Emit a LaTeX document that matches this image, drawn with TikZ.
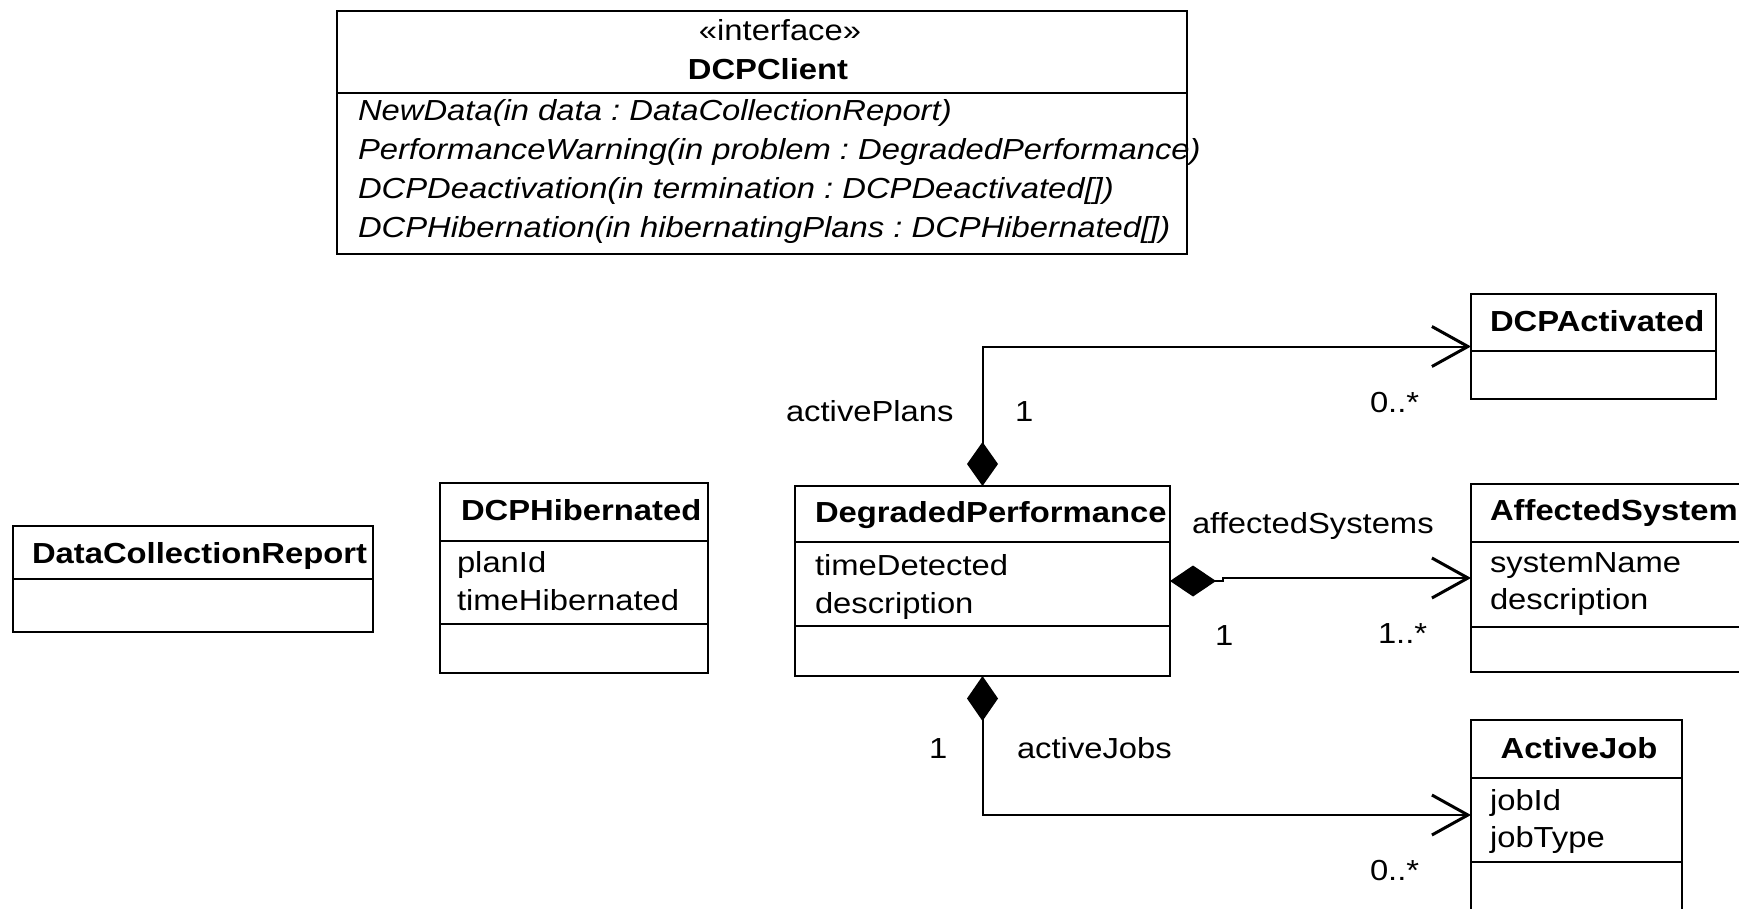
\documentclass[tikz,border=0pt]{standalone}
\usepackage{fontspec}
\setmainfont{Liberation Sans}[FakeStretch=1.13]
\usetikzlibrary{arrows.meta}
\frenchspacing

\tikzset{
  classbox/.style={draw, line width=2.6pt, inner sep=0pt, outer sep=0pt, anchor=north west},
  sepline/.style={line width=2.6pt},
  txt/.style={inner sep=0pt, outer sep=0pt, anchor=base west},
  ttl/.style={txt, font=\fontsize{29}{39}\selectfont\bfseries},
  meth/.style={txt, font=\fontsize{29}{39}\selectfont\itshape},
  assoc/.style={line width=2pt},
  comp/.style={assoc, {Diamond[length=#1,width=31pt]}-{Straight Barb[length=36pt,width=40pt,line width=3pt]}},
}

\begin{document}
\begin{tikzpicture}[x=1pt, y=-1pt, font=\fontsize{29}{39}\selectfont]
\useasboundingbox (0,0) rectangle (1739,908);
\clip (0,0) rectangle (1739,908);

% interface DCPClient
\node[classbox, minimum width=850pt, minimum height=243pt] (dcp) at (337,11) {};
\draw[sepline] ([yshift=-82pt]dcp.north west) -- ([yshift=-82pt]dcp.north east);
\node[txt, anchor=base] (dcp-st) at (780,40) {«interface»};
\node[ttl, anchor=base] (dcp-t) at (768,79) {DCPClient};
\node[meth] (dcp-m1) at (358,120) {NewData(in data : DataCollectionReport)};
\node[meth] (dcp-m2) at (358,159) {PerformanceWarning(in problem : DegradedPerformance)};
\node[meth] (dcp-m3) at (358,198) {DCPDeactivation(in termination : DCPDeactivated[])};
\node[meth] (dcp-m4) at (358,237) {DCPHibernation(in hibernatingPlans : DCPHibernated[])};

% DataCollectionReport
\node[classbox, minimum width=360pt, minimum height=106pt] (dcr) at (13,526) {};
\draw[sepline] ([yshift=-53pt]dcr.north west) -- ([yshift=-53pt]dcr.north east);
\node[ttl] (dcr-t) at (32,563) {DataCollectionReport};

% DCPHibernated
\node[classbox, minimum width=268pt, minimum height=190pt] (hib) at (440,483) {};
\draw[sepline] ([yshift=-58pt]hib.north west) -- ([yshift=-58pt]hib.north east);
\draw[sepline] ([yshift=-141pt]hib.north west) -- ([yshift=-141pt]hib.north east);
\node[ttl] (hib-t) at (461,520) {DCPHibernated};
\node[txt] (hib-a1) at (457,572) {planId};
\node[txt] (hib-a2) at (457,610) {timeHibernated};

% DegradedPerformance
\node[classbox, minimum width=375pt, minimum height=190pt] (dp) at (795,486) {};
\draw[sepline] ([yshift=-56pt]dp.north west) -- ([yshift=-56pt]dp.north east);
\draw[sepline] ([yshift=-140pt]dp.north west) -- ([yshift=-140pt]dp.north east);
\node[ttl] (dp-t) at (815,522) {DegradedPerformance};
\node[txt] (dp-a1) at (815,575) {timeDetected};
\node[txt] (dp-a2) at (815,613) {description};

% DCPActivated
\node[classbox, minimum width=245pt, minimum height=105pt] (act) at (1471,294) {};
\draw[sepline] ([yshift=-57pt]act.north west) -- ([yshift=-57pt]act.north east);
\node[ttl] (act-t) at (1490,331) {DCPActivated};

% AffectedSystem
\node[classbox, minimum width=281pt, minimum height=188pt] (as) at (1471,484) {};
\draw[sepline] ([yshift=-58pt]as.north west) -- ([yshift=-58pt]as.north east);
\draw[sepline] ([yshift=-143pt]as.north west) -- ([yshift=-143pt]as.north east);
\node[ttl] (as-t) at (1490,520) {AffectedSystem};
\node[txt] (as-a1) at (1490,572) {systemName};
\node[txt] (as-a2) at (1490,609) {description};

% ActiveJob
\node[classbox, minimum width=211pt, minimum height=190pt] (aj) at (1471,720) {};
\draw[sepline] ([yshift=-58pt]aj.north west) -- ([yshift=-58pt]aj.north east);
\draw[sepline] ([yshift=-142pt]aj.north west) -- ([yshift=-142pt]aj.north east);
\node[ttl, anchor=base] (aj-t) at (1579,758) {ActiveJob};
\node[txt] (aj-a1) at (1490,810) {jobId};
\node[txt] (aj-a2) at (1490,847) {jobType};

% compositions
\draw[comp=44pt] (dp.north) |- (act.west);
\draw[comp=46pt] (dp.east) -- ++(53,0) |- (as.west);
\draw[comp=45pt] (dp.south) |- (aj.west);

% role names and multiplicities
\node[txt] (l-ap) at (786,421) {activePlans};
\node[txt] (l-ap1) at (1015,421) {1};
\node[txt] (l-apm) at (1370,412) {0..*};
\node[txt] (l-as) at (1192,533) {affectedSystems};
\node[txt] (l-as1) at (1215,645) {1};
\node[txt] (l-asm) at (1378,643) {1..*};
\node[txt] (l-aj1) at (929,758) {1};
\node[txt] (l-aj) at (1017,758) {activeJobs};
\node[txt] (l-ajm) at (1370,880) {0..*};
\end{tikzpicture}
\end{document}
